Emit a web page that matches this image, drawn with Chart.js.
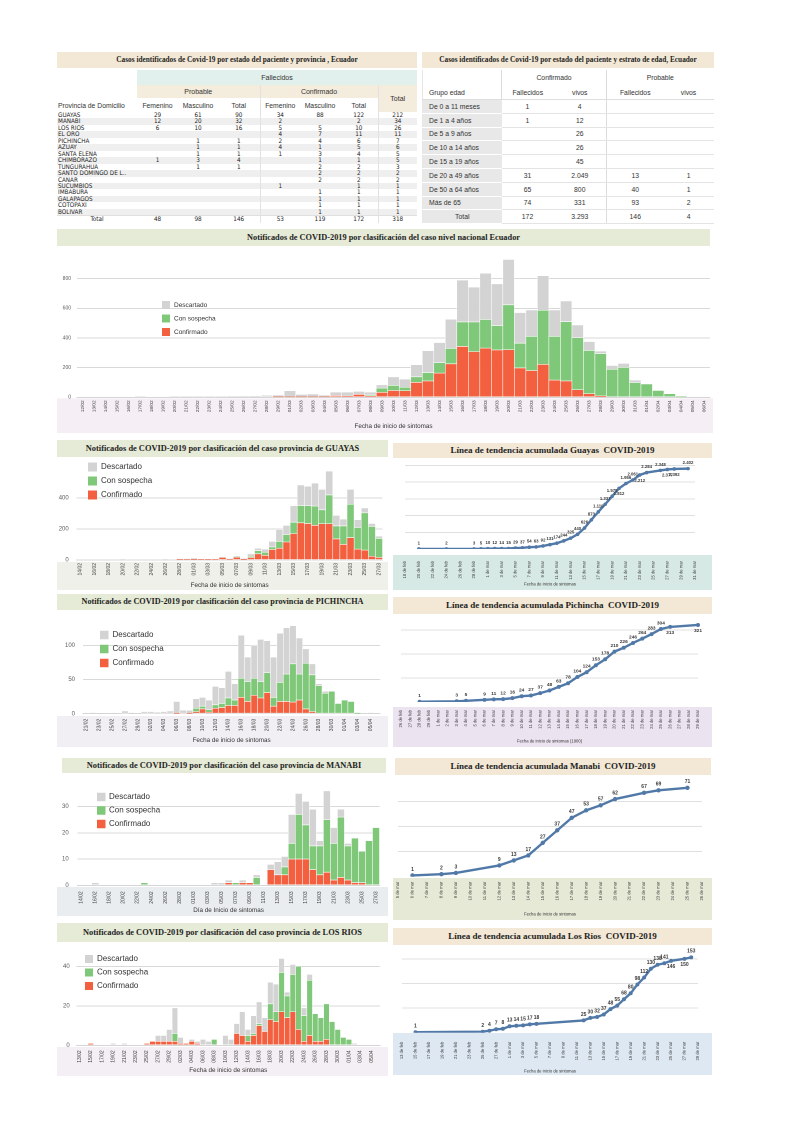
<!DOCTYPE html>
<html lang="es">
<head>
<meta charset="utf-8">
<title>Notificados COVID-2019 Ecuador</title>
<script src="https://cdn.jsdelivr.net/npm/chart.js@4.4.1/dist/chart.umd.min.js"></script>
<style>
html, body { margin: 0; padding: 0; background: #ffffff; }
body { position: relative; width: 800px; height: 1132px; overflow: hidden; font-family: 'Liberation Sans', Arial, sans-serif; color: #333; }
.titulo { position: absolute; font-family: 'Liberation Serif', 'Times New Roman', serif; font-weight: bold; color: #1f1f1f; text-align: center; white-space: pre; overflow: hidden; }
.verde { background: #e6ebd7; }
.crema { background: #f2e8d5; }
.caja { position: absolute; }
.caja canvas { display: block; }
.tabla { border-collapse: collapse; table-layout: fixed; width: 100%; color: #333; }
.tabla td { padding: 0; text-align: center; white-space: nowrap; overflow: hidden; }
.tprov .h1 td { height: 15px; font-size: 7px; }
.tprov .h2 td { height: 13px; font-size: 7px; }
.tprov .h3 td { height: 14px; font-size: 6.8px; }
.tprov .fallecidos { background: #e1efed; }
.tprov .cr { background: #f4ecdc; }
.tprov .sepI { border-left: 1px solid #e2e2e2; }
.tprov .fila td { height: 6.45px; line-height: 6.45px; font-size: 6.3px; font-family: 'DejaVu Sans Condensed', 'DejaVu Sans', sans-serif; font-stretch: condensed; color: #222; }
.tprov .fila:nth-child(odd) td { background: #efefef; }
.tprov .izq { text-align: left; padding-left: 1px; }
.tprov .total td { border-top: 1px solid #e0e0e0; }
.tedad { border-left: 1px solid #e6e6e6; border-bottom: 1px solid #e6e6e6; }
.tedad .h1 td { height: 15px; font-size: 6.8px; }
.tedad .h2 td { height: 14px; font-size: 6.8px; border-bottom: 1px solid #dedede; }
.tedad .fila td { height: 12.8px; font-size: 6.8px; border-bottom: 1px solid #e4e4e4; }
.tedad .fila td.grupo { background: #e8e8e8; border-bottom: 1px solid #ffffff; text-align: left; padding-left: 6px; }
.tedad .fila td.grupo.centro { text-align: center; padding-left: 0; }
.tedad .izq { text-align: left; padding-left: 6px; }
.tedad .sepD { border-right: 1px solid #dcdcdc; }
</style>
</head>
<body>

<!-- Tablas -->
<div class="titulo crema" style="left:57px;top:52px;width:360px;height:16px;line-height:16px;font-size:7.3px;">Casos identificados de Covid-19 por estado del paciente y provincia , Ecuador</div>
<div class="caja" id="tablaProvincia" style="left:57px;top:70px;width:360px;"></div>

<div class="titulo crema" style="left:422px;top:52px;width:292px;height:16px;line-height:16px;font-size:7.3px;">Casos identificados de Covid-19 por estado del paciente y estrato de edad, Ecuador</div>
<div class="caja" id="tablaEdad" style="left:422px;top:70px;width:291px;"></div>

<!-- Nacional -->
<div class="titulo verde" style="left:57px;top:229px;width:653px;height:17px;line-height:17px;font-size:8.3px;">Notificados de COVID-2019 por clasificación del caso nivel nacional Ecuador</div>
<div class="caja" style="left:57px;top:246px;width:656px;height:187px;"><canvas id="gNacional"></canvas></div>

<!-- Guayas -->
<div class="titulo verde" style="left:57px;top:440px;width:331px;height:17px;line-height:17px;font-size:8.4px;">Notificados de COVID-2019 por clasificación del caso provincia de GUAYAS</div>
<div class="caja" style="left:57px;top:457px;width:331px;height:133px;"><canvas id="gGuayas"></canvas></div>
<div class="titulo crema" style="left:393px;top:443px;width:319px;height:15px;line-height:15px;font-size:9px;">Línea de tendencia acumulada Guayas  COVID-2019</div>
<div class="caja" style="left:393px;top:458px;width:319px;height:132px;"><canvas id="lGuayas"></canvas></div>

<!-- Pichincha -->
<div class="titulo verde" style="left:57px;top:594px;width:331px;height:16px;line-height:16px;font-size:8.2px;">Notificados de COVID-2019 por clasificación del caso provincia de PICHINCHA</div>
<div class="caja" style="left:57px;top:610px;width:331px;height:137px;"><canvas id="gPichincha"></canvas></div>
<div class="titulo crema" style="left:393px;top:597px;width:319px;height:17px;line-height:17px;font-size:9px;">Línea de tendencia acumulada Pichincha  COVID-2019</div>
<div class="caja" style="left:393px;top:614px;width:319px;height:133px;"><canvas id="lPichincha"></canvas></div>

<!-- Manabi -->
<div class="titulo verde" style="left:62px;top:758px;width:324px;height:15px;line-height:15px;font-size:8.4px;">Notificados de COVID-2019 por clasificación del caso provincia de MANABI</div>
<div class="caja" style="left:57px;top:773px;width:331px;height:143px;"><canvas id="gManabi"></canvas></div>
<div class="titulo crema" style="left:395px;top:758px;width:316px;height:17px;line-height:17px;font-size:9px;">Línea de tendencia acumulada Manabi  COVID-2019</div>
<div class="caja" style="left:393px;top:775px;width:319px;height:145px;"><canvas id="lManabi"></canvas></div>

<!-- Los Rios -->
<div class="titulo verde" style="left:57px;top:923px;width:331px;height:19px;line-height:19px;font-size:8.4px;">Notificados de COVID-2019 por clasificación del caso provincia de LOS RIOS</div>
<div class="caja" style="left:57px;top:942px;width:331px;height:134px;"><canvas id="gLosRios"></canvas></div>
<div class="titulo crema" style="left:393px;top:928px;width:319px;height:17px;line-height:17px;font-size:9px;">Línea de tendencia acumulada Los Rios  COVID-2019</div>
<div class="caja" style="left:393px;top:945px;width:319px;height:130px;"><canvas id="lLosRios"></canvas></div>

<script>
// ---------- Tabla: fallecidos por provincia ----------
var provincias = ['GUAYAS', 'MANABI', 'LOS RIOS', 'EL ORO', 'PICHINCHA', 'AZUAY', 'SANTA ELENA', 'CHIMBORAZO', 'TUNGURAHUA', 'SANTO DOMINGO DE L..', 'CAÑAR', 'SUCUMBIOS', 'IMBABURA', 'GALAPAGOS', 'COTOPAXI', 'BOLIVAR'];
var probFemenino = [29, 12, 6, null, null, null, null, 1, null, null, null, null, null, null, null, null];
var probMasculino = [61, 20, 10, null, 1, 1, 1, 3, 1, null, null, null, null, null, null, null];
var probTotal = [90, 32, 16, null, 1, 1, 1, 4, 1, null, null, null, null, null, null, null];
var confFemenino = [34, 2, 5, 4, 2, 4, 1, null, null, null, null, 1, null, null, null, null];
var confMasculino = [88, null, 5, 7, 4, 1, 3, 1, 2, 2, 2, null, 1, 1, 1, 1];
var confTotal = [122, 2, 10, 11, 6, 5, 4, 1, 2, 2, 2, 1, 1, 1, 1, 1];
var totalProvincia = [212, 34, 26, 11, 7, 6, 5, 5, 3, 2, 2, 1, 1, 1, 1, 1];
var totalesProvincia = [48, 98, 146, 53, 119, 172, 318];

// ---------- Tabla: estrato de edad ----------
var gruposEdad = ['De 0 a 11 meses', 'De 1 a 4 años', 'De 5 a 9 años', 'De 10 a 14 años', 'De 15 a 19 años', 'De 20 a 49 años', 'De 50 a 64 años', 'Más de 65'];
var confFallecidos = [1, 1, null, null, null, 31, 65, 74];
var confVivos = [4, 12, 26, 26, 45, 2049, 800, 331];
var probFallecidos = [null, null, null, null, null, 13, 40, 93];
var probVivos = [null, null, null, null, null, 1, 1, 2];
var totalesEdad = [172, 3293, 146, 4];

// ---------- Nivel nacional ----------
var fechasNacional = ['12/02','13/02','14/02','15/02','16/02','17/02','18/02','19/02','20/02','21/02','22/02','23/02','24/02','25/02','26/02','27/02','28/02','29/02','01/03','02/03','03/03','04/03','05/03','06/03','07/03','08/03','09/03','10/03','11/03','12/03','13/03','14/03','15/03','16/03','17/03','18/03','19/03','20/03','21/03','22/03','23/03','24/03','25/03','26/03','27/03','28/03','29/03','30/03','31/03','01/04','02/04','03/04','04/04','05/04','06/04'];
var confirmadoNacional = [0,0,0,0,0,0,0,0,0,0,0,0,0,0,0,0,0,1,1,1,2,2,12,8,20,10,33,46,44,101,110,163,226,343,308,332,319,321,198,180,222,116,110,51,24,9,0,0,0,0,0,0,0,0,0];
var sospechaNacional = [0,0,0,0,0,0,0,0,0,0,0,0,0,0,0,0,0,0,0,0,0,0,0,0,0,5,29,35,24,37,57,70,104,165,200,193,165,303,167,231,365,295,400,351,292,286,189,202,99,90,46,24,3,0,0];
var descartadoNacional = [0,0,0,0,0,1,0,0,1,2,1,1,2,3,5,10,14,14,43,19,20,13,23,27,20,20,22,57,55,82,147,136,197,283,235,312,281,306,206,178,233,178,140,86,60,17,26,27,17,0,0,0,0,0,0];

// ---------- Guayas ----------
var fechasGuayas = ['14/02','15/02','16/02','17/02','18/02','19/02','20/02','21/02','22/02','23/02','24/02','25/02','26/02','27/02','28/02','29/02','01/03','02/03','03/03','04/03','05/03','06/03','07/03','08/03','09/03','10/03','11/03','12/03','13/03','14/03','15/03','16/03','17/03','18/03','19/03','20/03','21/03','22/03','23/03','24/03','25/03','26/03','27/03'];
var confirmadoGuayas = [0,0,0,0,0,0,0,0,0,0,0,0,0,0,1,2,5,2,2,1,16,4,18,5,16,40,30,68,76,116,170,240,236,224,234,234,136,100,144,70,64,24,16];
var sospechaGuayas = [0,0,0,0,0,0,0,0,0,0,0,0,0,0,0,0,0,0,0,0,0,0,2,0,8,20,20,16,44,48,74,110,114,124,90,186,84,120,216,140,240,192,124];
var descartadoGuayas = [0,0,0,0,0,0,2,0,0,0,0,0,2,0,8,6,6,4,4,3,2,4,4,4,16,16,20,36,76,60,106,134,126,148,132,154,68,44,96,50,32,20,14];

var diasGuayas = ['18 de feb','19 de feb','20 de feb','21 de feb','22 de feb','23 de feb','24 de feb','25 de feb','26 de feb','27 de feb','28 de feb','29 de feb','1 de mar','2 de mar','3 de mar','4 de mar','5 de mar','6 de mar','7 de mar','8 de mar','9 de mar','10 de mar','11 de mar','12 de mar','13 de mar','14 de mar','15 de mar','16 de mar','17 de mar','18 de mar','19 de mar','20 de mar','21 de mar','22 de mar','23 de mar','24 de mar','25 de mar','26 de mar','27 de mar','28 de mar','29 de mar','30 de mar','31 de mar'];
var acumuladoGuayas = [null,null,1,null,null,null,2,null,null,null,3,5,10,12,14,15,29,37,54,63,92,131,174,244,325,440,626,873,1110,1337,1575,1812,1956,2061,2212,2284,null,2348,2377,2392,null,2402,null];

// ---------- Pichincha ----------
var fechasPichincha = ['21/02','22/02','23/02','24/02','25/02','26/02','27/02','28/02','29/02','01/03','02/03','03/03','04/03','05/03','06/03','07/03','08/03','09/03','10/03','11/03','12/03','13/03','14/03','15/03','16/03','17/03','18/03','19/03','20/03','21/03','22/03','23/03','24/03','25/03','26/03','27/03','28/03','29/03','30/03','31/03','01/04','02/04','03/04','04/04','05/04','06/04'];
var confirmadoPichincha = [0,0,0,0,0,0,0,0,0,0,0,0,0,0,1,0,1,3,7,2,8,9,12,12,24,18,27,23,31,11,18,18,17,20,7,3,0,0,0,0,0,0,0,0,0,0];
var sospechaPichincha = [0,0,0,0,0,0,0,0,0,0,0,0,0,0,0,0,0,5,4,4,5,6,11,8,28,29,25,24,29,13,28,40,56,38,67,54,41,30,33,15,20,18,1,0,0,0];
var descartadoPichincha = [0,1,0,0,0,0,4,1,0,3,3,2,3,4,17,5,4,14,13,14,27,23,39,24,63,36,48,62,47,59,72,68,56,53,21,16,3,3,0,0,0,0,0,0,1,0];

var diasPichincha = ['26 de feb','27 de feb','28 de feb','29 de feb','1 de mar','2 de mar','3 de mar','4 de mar','5 de mar','6 de mar','7 de mar','8 de mar','9 de mar','10 de mar','11 de mar','12 de mar','13 de mar','14 de mar','15 de mar','16 de mar','17 de mar','18 de mar','19 de mar','20 de mar','21 de mar','22 de mar','23 de mar','24 de mar','25 de mar','26 de mar','27 de mar','28 de mar','29 de mar'];
var acumuladoPichincha = [null,null,1,null,null,null,3,5,null,9,11,12,16,24,27,37,48,63,78,104,124,153,178,210,226,246,264,283,304,313,null,null,321];

// ---------- Manabi ----------
var fechasManabi = ['14/02','15/02','16/02','17/02','18/02','19/02','20/02','21/02','22/02','23/02','24/02','25/02','26/02','27/02','28/02','29/02','01/03','02/03','03/03','04/03','05/03','06/03','07/03','08/03','09/03','10/03','11/03','12/03','13/03','14/03','15/03','16/03','17/03','18/03','19/03','20/03','21/03','22/03','23/03','24/03','25/03','26/03','27/03'];
var confirmadoManabi = [0,0,0,0,0,0,0,0,0,0,0,0,0,0,0,0,0,0,0,0,0,1,0,1,1,0,0,6,4,4,10,10,10,6,4,5,2,3,2,1,1,0,0];
var sospechaManabi = [0,0,0,0,0,0,0,0,0,1,0,0,0,0,0,0,0,0,0,0,0,0,1,0,0,3,0,0,0,3,6,17,13,9,11,20,14,23,13,17,12,17,22];
var descartadoManabi = [0,0,1,0,0,0,0,0,0,0,0,0,0,0,0,0,0,0,0,1,1,1,0,1,0,1,0,2,5,4,11,8,9,14,2,11,6,3,1,0,0,0,0];

var diasManabi = ['5 de mar','6 de mar','7 de mar','8 de mar','9 de mar','10 de mar','11 de mar','12 de mar','13 de mar','14 de mar','15 de mar','16 de mar','17 de mar','18 de mar','19 de mar','20 de mar','21 de mar','22 de mar','23 de mar','24 de mar','25 de mar','26 de mar'];
var acumuladoManabi = [null,1,null,2,3,null,null,9,13,17,27,37,47,53,57,62,null,67,69,null,71,null];

// ---------- Los Rios ----------
var fechasLosRios = ['13/02','14/02','15/02','16/02','17/02','18/02','19/02','20/02','21/02','22/02','23/02','24/02','25/02','26/02','27/02','28/02','29/02','01/03','02/03','03/03','04/03','05/03','06/03','07/03','08/03','09/03','10/03','11/03','12/03','13/03','14/03','15/03','16/03','17/03','18/03','19/03','20/03','21/03','22/03','23/03','24/03','25/03','26/03','27/03','28/03','29/03','30/03','31/03','01/04','02/04','03/04','04/04','05/04','06/04'];
var confirmadoLosRios = [0,0,1,0,0,0,0,0,0,0,0,0,1,2,2,2,2,2,1,1,2,1,0,0,0,0,0,0,6,5,2,5,10,7,13,12,17,14,17,8,2,5,2,2,3,0,0,0,0,0,0,0,0,0];
var sospechaLosRios = [0,0,0,0,0,0,0,0,0,0,0,0,0,0,0,0,0,4,0,0,0,0,0,0,3,0,0,0,0,0,3,1,1,0,8,5,20,11,19,32,13,28,14,12,18,12,8,4,3,0,0,0,0,0];
var descartadoLosRios = [0,0,0,0,0,0,1,0,1,0,0,0,0,0,3,3,6,13,3,0,1,1,3,2,0,0,5,3,5,12,3,9,11,7,11,14,7,2,5,0,4,3,0,0,0,0,0,0,0,1,0,0,0,0];

var diasLosRios = ['13 de feb','14 de feb','15 de feb','16 de feb','17 de feb','18 de feb','19 de feb','20 de feb','21 de feb','22 de feb','23 de feb','24 de feb','25 de feb','26 de feb','27 de feb','28 de feb','1 de mar','2 de mar','3 de mar','4 de mar','5 de mar','6 de mar','7 de mar','8 de mar','9 de mar','10 de mar','11 de mar','12 de mar','13 de mar','14 de mar','15 de mar','16 de mar','17 de mar','18 de mar','19 de mar','20 de mar','21 de mar','22 de mar','23 de mar','24 de mar','25 de mar','26 de mar','27 de mar','28 de mar','29 de mar'];
var acumuladoLosRios = [null,null,1,null,null,null,null,null,null,null,null,null,2,4,7,8,13,14,15,17,18,null,null,null,null,null,null,25,30,32,37,48,55,68,80,98,112,130,138,141,146,null,150,153,null];

// ---------- Colores ----------
var ROJO = '#f2603f';
var VERDE = '#80c879';
var GRIS = '#d3d3d3';
var AZUL = '#5179a8';

Chart.defaults.font.family = "'Liberation Sans', Arial, sans-serif";
Chart.defaults.color = '#404040';

// Numero con punto de miles (formato de Ecuador)
function fmt(v) {
    if (v === null || v === undefined) return '';
    return String(v).replace(/\B(?=(\d{3})+(?!\d))/g, '.');
}

// Muestra solo una etiqueta de cada dos
function etiquetaAlterna(valor, indice) {
    return indice % 2 === 0 ? this.getLabelForValue(valor) : '';
}

// Marcas del eje Y cada "paso" (desde "desde" hasta el maximo)
function marcasFijas(paso, desde) {
    return function (s) {
        var t = [];
        for (var v = desde; v <= s.max + 0.001; v += paso) t.push({ value: v });
        s.ticks = t;
    };
}

// Franja de color detras del eje de fechas
function bandaPlugin(color, desde) {
    return {
        id: 'bandaEje',
        beforeDraw: function (chart) {
            var c = chart.ctx;
            c.save();
            c.fillStyle = color;
            c.fillRect(0, desde, chart.width, chart.height - desde);
            c.restore();
        }
    };
}

// Leyenda dentro del area del grafico (Descartado, Con sospecha, Confirmado)
function leyendaPlugin(l) {
    return {
        id: 'leyendaInterna',
        afterDraw: function (chart) {
            var c = chart.ctx;
            c.save();
            c.font = l.fuente + 'px "Liberation Sans", Arial, sans-serif';
            c.textBaseline = 'middle';
            c.textAlign = 'left';
            [2, 1, 0].forEach(function (i, k) {
                var ds = chart.data.datasets[i];
                var y = l.y + k * l.paso;
                c.fillStyle = ds.backgroundColor;
                c.fillRect(l.x, y - l.cuadro / 2, l.cuadro, l.cuadro);
                c.fillStyle = '#333333';
                c.fillText(ds.label, l.x + l.cuadro + l.sep, y);
            });
            c.restore();
        }
    };
}

// Etiquetas de valor sobre los puntos de la linea
function etiquetasPlugin(abajo, fuente) {
    return {
        id: 'etiquetasValor',
        afterDatasetsDraw: function (chart) {
            var c = chart.ctx;
            var meta = chart.getDatasetMeta(0);
            var datos = chart.data.datasets[0].data;
            c.save();
            c.font = 'bold ' + fuente + 'px "Liberation Sans", Arial, sans-serif';
            c.fillStyle = '#3a3a3a';
            c.textAlign = 'center';
            meta.data.forEach(function (p, i) {
                if (datos[i] === null) return;
                if (abajo.indexOf(i) >= 0) {
                    c.textBaseline = 'top';
                    c.fillText(fmt(datos[i]), p.x, p.y + 3.5);
                } else {
                    c.textBaseline = 'bottom';
                    c.fillText(fmt(datos[i]), p.x, p.y - 3.5);
                }
            });
            c.restore();
        }
    };
}

function crearBarras(id, fechas, conf, sosp, desc, cfg) {
    var ticksX = { autoSkip: false, minRotation: 90, maxRotation: 90, padding: cfg.padX, font: { size: cfg.fuenteX }, color: '#404040' };
    if (cfg.alterna) ticksX.callback = etiquetaAlterna;
    return new Chart(document.getElementById(id).getContext('2d'), {
        type: 'bar',
        data: {
            labels: fechas,
            datasets: [
                { label: 'Confirmado', data: conf, backgroundColor: ROJO },
                { label: 'Con sospecha', data: sosp, backgroundColor: VERDE },
                { label: 'Descartado', data: desc, backgroundColor: GRIS }
            ]
        },
        options: {
            responsive: true,
            maintainAspectRatio: false,
            animation: false,
            devicePixelRatio: 2,
            layout: { padding: { top: cfg.arriba, right: cfg.derecha, bottom: 0, left: 0 } },
            datasets: { bar: { categoryPercentage: 1, barPercentage: 1, borderColor: 'rgba(255,255,255,0.7)', borderWidth: 0.6, borderSkipped: false } },
            plugins: { legend: { display: false }, tooltip: { enabled: false } },
            scales: {
                x: {
                    stacked: true,
                    grid: { display: false, drawTicks: false },
                    border: { color: '#d6d6d6' },
                    ticks: ticksX,
                    title: { display: true, text: cfg.tituloX, font: { size: 6.3 }, color: '#333333', padding: { top: 0, bottom: cfg.tituloAbajo } },
                    afterFit: function (s) { s.height = cfg.altoX; }
                },
                y: {
                    stacked: true,
                    min: 0,
                    max: cfg.max,
                    grid: { color: '#d9d9d9', drawTicks: false },
                    border: { display: false },
                    ticks: { autoSkip: false, font: { size: cfg.fuenteY }, color: '#595959', padding: cfg.padY },
                    afterBuildTicks: marcasFijas(cfg.paso, 0),
                    afterFit: function (s) { s.width = cfg.anchoY; }
                }
            }
        },
        plugins: [bandaPlugin(cfg.colorBanda, cfg.desdeBanda), leyendaPlugin(cfg.leyenda)]
    });
}

function crearLinea(id, dias, valores, cfg) {
    var ticksX = { autoSkip: false, minRotation: 90, maxRotation: 90, padding: cfg.padX, font: { size: cfg.fuenteX }, color: '#404040' };
    if (cfg.alterna) ticksX.callback = etiquetaAlterna;
    return new Chart(document.getElementById(id).getContext('2d'), {
        type: 'line',
        data: {
            labels: dias,
            datasets: [{
                data: valores,
                borderColor: AZUL,
                backgroundColor: AZUL,
                borderWidth: 2.4,
                pointRadius: cfg.radio,
                pointBackgroundColor: AZUL,
                pointBorderWidth: 0,
                spanGaps: true,
                tension: 0
            }]
        },
        options: {
            responsive: true,
            maintainAspectRatio: false,
            animation: false,
            devicePixelRatio: 2,
            layout: { padding: { top: cfg.arriba, right: cfg.derecha, bottom: 0, left: cfg.izq } },
            plugins: { legend: { display: false }, tooltip: { enabled: false } },
            scales: {
                x: {
                    offset: false,
                    grid: { display: false, drawTicks: false },
                    border: { display: false },
                    ticks: ticksX,
                    title: { display: true, text: cfg.tituloX, font: { size: 4.2 }, color: '#333333', padding: { top: 0, bottom: cfg.tituloAbajo } },
                    afterFit: function (s) { s.height = cfg.altoX; }
                },
                y: {
                    min: 0,
                    max: cfg.max,
                    grid: { color: '#e0e0e0', drawTicks: false },
                    border: { display: false },
                    ticks: { display: false },
                    afterBuildTicks: marcasFijas(cfg.paso, cfg.paso),
                    afterFit: function (s) { s.width = 0; }
                }
            }
        },
        plugins: [bandaPlugin(cfg.colorBanda, cfg.desdeBanda), etiquetasPlugin(cfg.abajo, cfg.fuenteEtiqueta)]
    });
}

// ---------- Tablas ----------
function construirTablaProvincia() {
    var h = '<table class="tabla tprov"><colgroup>';
    [80, 41, 40, 42, 40, 40, 38, 39].forEach(function (w) { h += '<col style="width:' + w + 'px">'; });
    h += '</colgroup>';
    h += '<tr class="h1"><td></td><td colspan="7" class="fallecidos">Fallecidos</td></tr>';
    h += '<tr class="h2"><td></td><td colspan="3" class="cr">Probable</td><td colspan="3" class="cr sepI">Confirmado</td><td rowspan="2" class="cr sepI">Total</td></tr>';
    h += '<tr class="h3"><td class="izq">Provincia de Domicilio</td><td>Femenino</td><td>Masculino</td><td>Total</td><td class="sepI">Femenino</td><td>Masculino</td><td>Total</td></tr>';
    for (var i = 0; i < provincias.length; i++) {
        h += '<tr class="fila"><td class="izq">' + provincias[i] + '</td>' +
            '<td>' + fmt(probFemenino[i]) + '</td><td>' + fmt(probMasculino[i]) + '</td><td>' + fmt(probTotal[i]) + '</td>' +
            '<td class="sepI">' + fmt(confFemenino[i]) + '</td><td>' + fmt(confMasculino[i]) + '</td><td>' + fmt(confTotal[i]) + '</td>' +
            '<td class="sepI">' + fmt(totalProvincia[i]) + '</td></tr>';
    }
    h += '<tr class="fila total"><td>Total</td>';
    totalesProvincia.forEach(function (v, k) { h += '<td' + (k === 3 || k === 6 ? ' class="sepI"' : '') + '>' + fmt(v) + '</td>'; });
    h += '</tr></table>';
    document.getElementById('tablaProvincia').innerHTML = h;
}

function construirTablaEdad() {
    var h = '<table class="tabla tedad"><colgroup>';
    [79, 52, 53, 57, 50].forEach(function (w) { h += '<col style="width:' + w + 'px">'; });
    h += '</colgroup>';
    h += '<tr class="h1"><td class="sepD"></td><td colspan="2" class="sepD">Confirmado</td><td colspan="2">Probable</td></tr>';
    h += '<tr class="h2"><td class="izq sepD">Grupo edad</td><td>Fallecidos</td><td class="sepD">vivos</td><td>Fallecidos</td><td>vivos</td></tr>';
    for (var i = 0; i < gruposEdad.length; i++) {
        h += '<tr class="fila"><td class="grupo">' + gruposEdad[i] + '</td><td>' + fmt(confFallecidos[i]) + '</td><td class="sepD">' + fmt(confVivos[i]) +
            '</td><td>' + fmt(probFallecidos[i]) + '</td><td>' + fmt(probVivos[i]) + '</td></tr>';
    }
    h += '<tr class="fila"><td class="grupo centro">Total</td><td>' + fmt(totalesEdad[0]) + '</td><td class="sepD">' + fmt(totalesEdad[1]) +
        '</td><td>' + fmt(totalesEdad[2]) + '</td><td>' + fmt(totalesEdad[3]) + '</td></tr></table>';
    document.getElementById('tablaEdad').innerHTML = h;
}

construirTablaProvincia();
construirTablaEdad();

// ---------- Graficos de barras ----------
crearBarras('gNacional', fechasNacional, confirmadoNacional, sospechaNacional, descartadoNacional, {
    arriba: 5.4, derecha: 0, anchoY: 20, altoX: 35.7, max: 960, paso: 200,
    fuenteX: 4.8, fuenteY: 5, padX: 3, padY: 6, alterna: false,
    tituloX: 'Fecha de inicio de sintomas', tituloAbajo: 3,
    colorBanda: '#f5eff5', desdeBanda: 152.3,
    leyenda: { x: 105, y: 59, paso: 13.5, cuadro: 8, fuente: 6.5, sep: 4 }
});

crearBarras('gGuayas', fechasGuayas, confirmadoGuayas, sospechaGuayas, descartadoGuayas, {
    arriba: 4.6, derecha: 0, anchoY: 19.7, altoX: 30, max: 590, paso: 200,
    fuenteX: 5, fuenteY: 6, padX: 3, padY: 8, alterna: true,
    tituloX: 'Fecha de inicio de sintomas', tituloAbajo: 1,
    colorBanda: '#eef0e9', desdeBanda: 105,
    leyenda: { x: 31, y: 10, paso: 14, cuadro: 9, fuente: 8, sep: 4 }
});

crearBarras('gPichincha', fechasPichincha, confirmadoPichincha, sospechaPichincha, descartadoPichincha, {
    arriba: 5.6, derecha: 3, anchoY: 26, altoX: 33.3, max: 135, paso: 50,
    fuenteX: 5, fuenteY: 6, padX: 5, padY: 8, alterna: true,
    tituloX: 'Fecha de inicio de sintomas', tituloAbajo: 3,
    colorBanda: '#f1eff3', desdeBanda: 106,
    leyenda: { x: 43, y: 25, paso: 14, cuadro: 8.5, fuente: 8, sep: 4 }
});

crearBarras('gManabi', fechasManabi, confirmadoManabi, sospechaManabi, descartadoManabi, {
    arriba: 3.4, derecha: 0, anchoY: 20.7, altoX: 30.7, max: 38, paso: 10,
    fuenteX: 5, fuenteY: 6, padX: 6, padY: 9, alterna: true,
    tituloX: 'Día de Inicio de sintomas', tituloAbajo: 2,
    colorBanda: '#eaedf0', desdeBanda: 114,
    leyenda: { x: 40, y: 24, paso: 13.5, cuadro: 8.5, fuente: 8, sep: 3.5 }
});

crearBarras('gLosRios', fechasLosRios, confirmadoLosRios, sospechaLosRios, descartadoLosRios, {
    arriba: 2.25, derecha: 0, anchoY: 19.7, altoX: 30.7, max: 47, paso: 20,
    fuenteX: 5, fuenteY: 6, padX: 5, padY: 7, alterna: true,
    tituloX: 'Fecha de inicio de sintomas', tituloAbajo: 2,
    colorBanda: '#f4eff4', desdeBanda: 105,
    leyenda: { x: 28, y: 17, paso: 13.5, cuadro: 8, fuente: 8, sep: 4 }
});

// ---------- Lineas de tendencia acumulada ----------
crearLinea('lGuayas', diasGuayas, acumuladoGuayas, {
    arriba: 1.9, derecha: 11, izq: 0.5, altoX: 41, max: 2600, paso: 500,
    fuenteX: 4.2, padX: 12, alterna: true, radio: 1.8,
    tituloX: 'Fecha de inicio de sintomas', tituloAbajo: 3,
    colorBanda: '#d7e9e4', desdeBanda: 97,
    fuenteEtiqueta: 4.3, abajo: [31, 34, 38, 39]
});

crearLinea('lPichincha', diasPichincha, acumuladoPichincha, {
    arriba: 1.55, derecha: 14, izq: 0, altoX: 45, max: 350, paso: 100,
    fuenteX: 4.2, padX: 8, alterna: false, radio: 2,
    tituloX: 'Fecha de inicio de sintomas (1900)', tituloAbajo: 3,
    colorBanda: '#ebe3ef', desdeBanda: 93,
    fuenteEtiqueta: 4.8, abajo: [29, 32]
});

crearLinea('lManabi', diasManabi, acumuladoManabi, {
    arriba: 1, derecha: 3, izq: 0, altoX: 43.3, max: 78, paso: 20,
    fuenteX: 4.2, padX: 5, alterna: false, radio: 2.2,
    tituloX: 'Fecha de inicio de sintomas', tituloAbajo: 3,
    colorBanda: '#e5e9d5', desdeBanda: 103,
    fuenteEtiqueta: 5, abajo: []
});

crearLinea('lLosRios', diasLosRios, acumuladoLosRios, {
    arriba: 1.3, derecha: 10, izq: 0, altoX: 42.3, max: 170, paso: 50,
    fuenteX: 4.2, padX: 9, alterna: true, radio: 2,
    tituloX: 'Fecha de inicio de sintomas', tituloAbajo: 1,
    colorBanda: '#dde8f2', desdeBanda: 88,
    fuenteEtiqueta: 5, abajo: [40, 42]
});
</script>
</body>
</html>
